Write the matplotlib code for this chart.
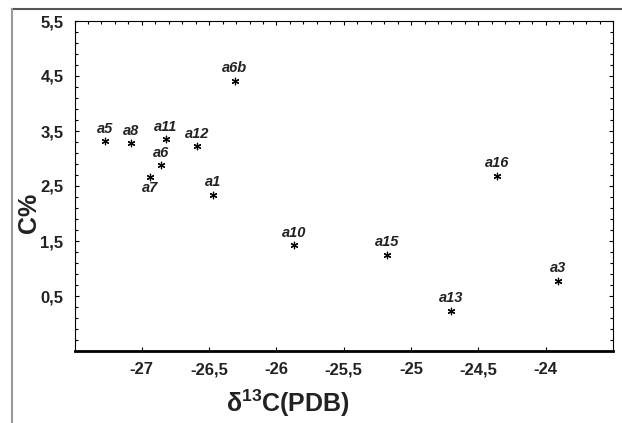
import numpy as np
import matplotlib
matplotlib.use("Agg")
import matplotlib.pyplot as plt
from matplotlib.ticker import FixedLocator, FuncFormatter
from matplotlib.lines import Line2D

# samples: delta13C (PDB) vs C%
names = ["a5", "a8", "a11", "a6", "a7", "a12", "a6b", "a1",
         "a10", "a15", "a13", "a3", "a16"]
d13c = [-27.27, -27.08, -26.82, -26.86, -26.94, -26.59, -26.31, -26.47,
        -25.87, -25.18, -24.70, -23.91, -24.36]
cpct = [3.31, 3.28, 3.35, 2.88, 2.67, 3.22, 4.41, 2.34,
        1.42, 1.25, 0.23, 0.78, 2.69]
below = ["a7"]

xticks = [-27, -26.5, -26, -25.5, -25, -24.5, -24]
yticks = [0.5, 1.5, 2.5, 3.5, 4.5, 5.5]

plt.rcParams['font.family'] = ['Liberation Sans', 'DejaVu Sans']
plt.rcParams['mathtext.fontset'] = 'custom'
plt.rcParams['mathtext.bf'] = 'Liberation Sans:bold'
plt.rcParams['mathtext.rm'] = 'Liberation Sans:bold'

fig = plt.figure(figsize=(6.22, 4.23), dpi=100)
ax = fig.add_axes([74.5 / 622, 1 - 351 / 423, (613 - 74.5) / 622, (351 - 21) / 423])

ax.scatter(d13c, cpct, marker=(6, 2, 0), s=22, color='black', linewidths=0.9, zorder=3)
for n, x, y in zip(names, d13c, cpct):
    dy = -8 if n in below else 9
    ax.annotate(n, (x, y), xytext=(0, dy), textcoords='offset points',
                ha='center', va='center', fontsize=10.5, fontweight='bold',
                fontstyle='italic', color='#222222')

ax.set_xlim(-27.5, -23.5)
ax.set_ylim(-0.5, 5.5)

comma = FuncFormatter(lambda v, p: ('%g' % v).replace('.', ','))
ax.xaxis.set_major_locator(FixedLocator(xticks))
ax.yaxis.set_major_locator(FixedLocator(yticks))
ax.xaxis.set_major_formatter(comma)
ax.yaxis.set_major_formatter(comma)
ax.xaxis.set_minor_locator(FixedLocator(np.arange(-27.5, -23.49, 0.1)))
ax.yaxis.set_minor_locator(FixedLocator(np.arange(-0.5, 5.51, 0.2)))

ax.tick_params(which='both', direction='in', top=True, right=True, width=0.8)
ax.tick_params(which='major', length=3, pad=8, labelsize=12)
ax.tick_params(which='minor', length=2.5, bottom=False)
for lab in ax.get_xticklabels() + ax.get_yticklabels():
    lab.set_fontweight('bold')
    lab.set_color('#222222')

for s in ['top', 'left', 'right']:
    ax.spines[s].set_linewidth(0.8)
ax.spines['bottom'].set_linewidth(2)

fig.text(288 / 622, 1 - 403 / 423, 'δ$^{13}$C(PDB)',
         ha='center', va='center', fontsize=18, fontweight='bold', color='#222222')
fig.text(29 / 622, 1 - 213 / 423, 'C%', rotation=90, ha='center', va='center',
         fontsize=18, fontweight='bold', color='#222222')

# outer frame (partly visible)
fig.add_artist(Line2D([12 / 622, 1], [1 - 9 / 423, 1 - 9 / 423], color='#555555', lw=1.5,
                      transform=fig.transFigure))
fig.add_artist(Line2D([12 / 622, 12 / 622], [0, 1 - 9 / 423], color='#999999', lw=1.5,
                      transform=fig.transFigure))

fig.savefig('out.png', dpi=100)
